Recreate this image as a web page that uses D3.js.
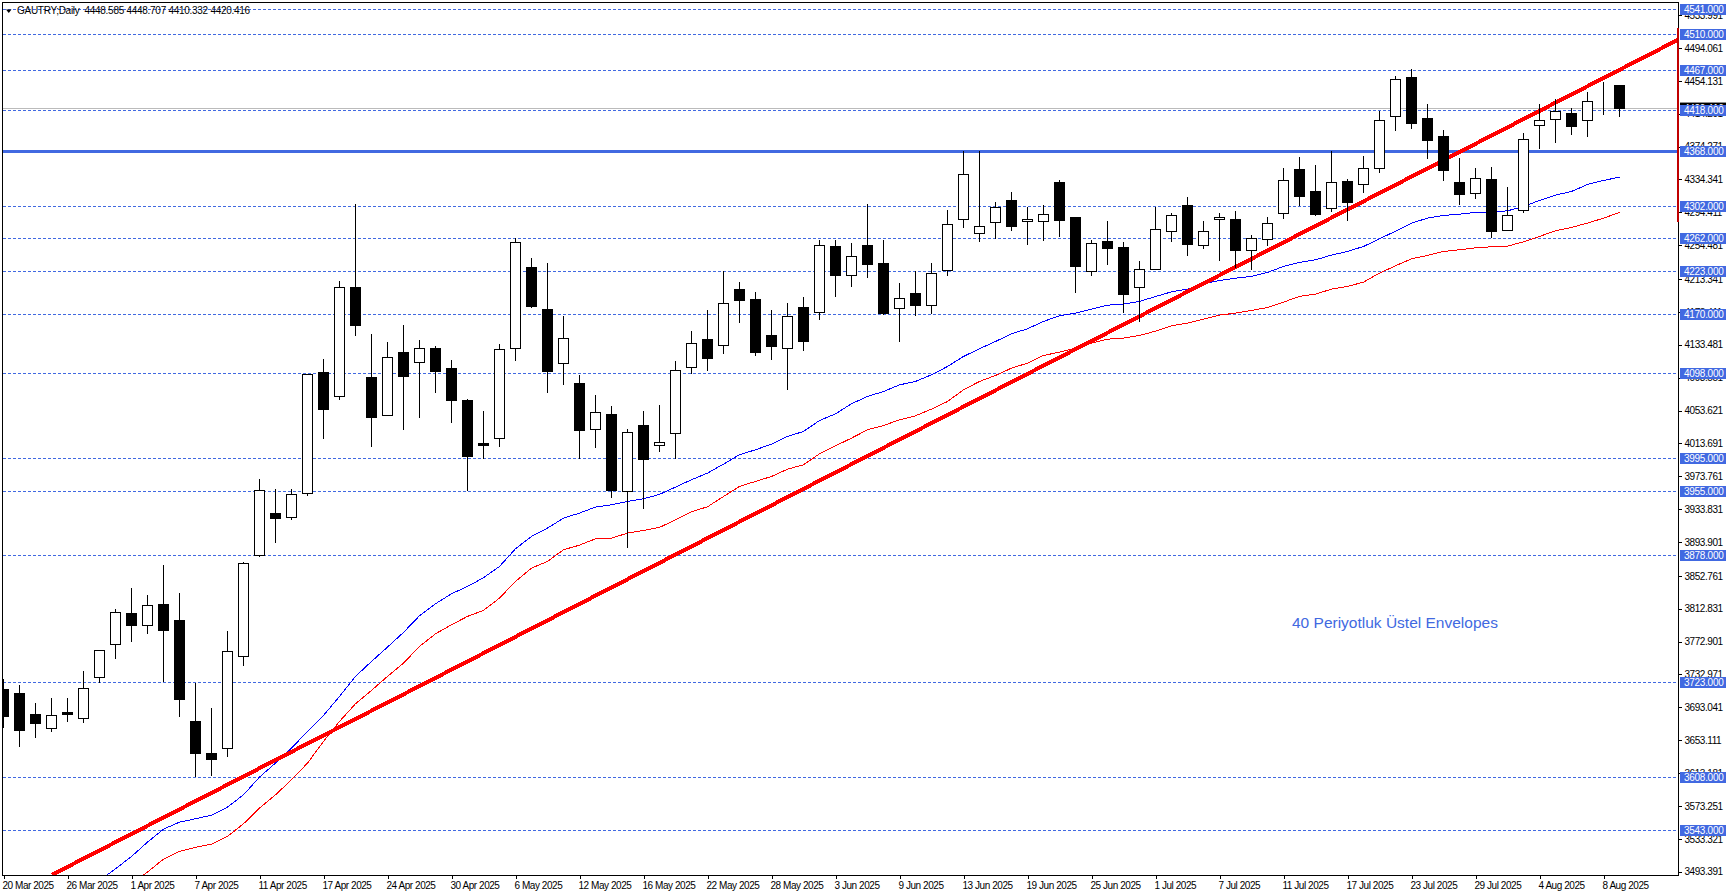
<!DOCTYPE html>
<html><head><meta charset="utf-8">
<style>
html,body{margin:0;padding:0;background:#fff;overflow:hidden}
svg{display:block}
text{font-family:"Liberation Sans",Arial,sans-serif;font-size:10px;letter-spacing:-0.28px;fill:#000}
.axis text{font-size:10px;letter-spacing:-0.45px}
.axis line{stroke:#000;stroke-width:1;shape-rendering:crispEdges}
</style>
<script src="https://cdnjs.cloudflare.com/ajax/libs/d3/7.8.5/d3.min.js"></script>
</head><body><div id="c"></div>
<script>
const chartTitle="GAUTRY;Daily  4448.585 4448.707 4410.332 4420.416";
const annotation="40 Periyotluk Üstel Envelopes";
const dateLabels=["20 Mar 2025","26 Mar 2025","1 Apr 2025","7 Apr 2025","11 Apr 2025","17 Apr 2025","24 Apr 2025","30 Apr 2025","6 May 2025","12 May 2025","16 May 2025","22 May 2025","28 May 2025","3 Jun 2025","9 Jun 2025","13 Jun 2025","19 Jun 2025","25 Jun 2025","1 Jul 2025","7 Jul 2025","11 Jul 2025","17 Jul 2025","23 Jul 2025","29 Jul 2025","4 Aug 2025","8 Aug 2025"];
const priceTicks=[4533.991,4494.061,4454.131,4414.201,4374.271,4334.341,4294.411,4254.481,4213.341,4173.411,4133.481,4093.551,4053.621,4013.691,3973.761,3933.831,3893.901,3852.761,3812.831,3772.901,3732.971,3693.041,3653.111,3613.181,3573.251,3533.321,3493.391];
const dashedLevels=[4541,4510,4467,4418,4302,4262,4223,4170,4098,3995,3955,3878,3723,3608,3543];
const mainLevel=[4368];
const bidPrice=4420.416;
const opens=[3714.4,3710.3,3684.8,3667.8,3686.4,3679.5,3729.8,3769.8,3807.5,3792.9,3818.4,3799.0,3676.3,3637.4,3643.5,3755.3,3877.9,3929.0,3924.1,3952.4,4100.3,4071.1,4203.5,4094.2,4048.0,4124.6,4112.4,4129.4,4105.1,4066.3,4014.0,4020.1,4129.4,4227.8,4176.8,4111.2,4086.9,4031.0,4049.2,3955.7,4035.9,4011.6,4026.2,4106.3,4140.4,4133.1,4201.1,4188.9,4145.2,4129.4,4179.2,4173.1,4253.3,4218.1,4254.5,4232.6,4178.0,4196.2,4181.6,4224.1,4286.1,4269.1,4282.4,4309.2,4283.7,4283.7,4331.0,4288.5,4222.9,4259.4,4252.1,4203.5,4225.4,4271.5,4303.1,4254.5,4286.1,4286.1,4248.5,4261.8,4293.4,4346.8,4320.1,4299.5,4332.3,4328.6,4348.1,4411.2,4458.6,4408.8,4386.9,4331.1,4317.7,4334.7,4272.8,4297.0,4400.3,4407.6,4414.9,4406.4,4433.1,4448.585];
const highs=[3726.5,3719.2,3698.2,3704.2,3704.2,3737.0,3762.6,3812.4,3837.9,3829.4,3865.8,3831.8,3721.7,3692.1,3785.6,3869.4,3969.5,3958.1,3957.3,4097.5,4116.1,4210.8,4304.3,4146.4,4136.7,4157.4,4139.1,4131.0,4114.8,4067.5,4052.9,4134.3,4263.0,4238.7,4232.7,4168.3,4096.6,4072.3,4059.0,4031.0,4052.9,4060.2,4113.6,4150.1,4175.6,4222.5,4209.6,4197.4,4175.6,4184.1,4191.3,4260.6,4260.6,4256.9,4304.3,4260.6,4208.3,4222.5,4232.6,4297.0,4368.0,4368.0,4306.7,4318.9,4300.7,4303.1,4333.5,4288.5,4260.6,4283.7,4258.1,4235.1,4300.7,4293.4,4312.8,4283.7,4293.4,4295.8,4266.7,4288.5,4348.1,4361.4,4351.7,4368.0,4334.7,4362.6,4416.5,4459.8,4467.5,4425.8,4394.2,4360.2,4348.1,4349.3,4325.0,4390.6,4425.8,4431.9,4420.9,4440.4,4452.5,4448.707];
const lows=[3668.6,3645.5,3656.5,3663.8,3675.9,3674.7,3723.7,3752.4,3773.1,3782.8,3724.5,3682.0,3609.1,3610.7,3633.4,3743.9,3876.3,3893.3,3921.3,3950.0,4019.7,4066.7,4144.8,4010.0,4047.5,4030.6,4045.2,4075.6,4039.1,3956.1,3995.8,4010.0,4114.4,4178.8,4075.6,4085.3,3995.8,4008.8,3948.0,3887.3,3934.7,4003.9,3995.8,4099.1,4101.9,4122.5,4160.2,4120.5,4115.2,4078.8,4126.6,4163.8,4192.1,4204.3,4215.2,4170.7,4137.5,4169.1,4171.5,4217.7,4276.0,4259.0,4262.6,4272.3,4255.3,4260.2,4265.0,4197.0,4217.7,4231.0,4172.7,4161.8,4225.0,4259.0,4242.0,4250.5,4235.9,4227.0,4224.6,4254.1,4286.9,4303.1,4290.6,4295.4,4284.5,4318.5,4342.8,4393.8,4396.2,4359.8,4333.1,4303.9,4311.2,4263.8,4272.5,4294.6,4371.9,4379.2,4389.0,4386.5,4413.7,4410.332];
const closes=[3682.0,3665.0,3673.5,3683.6,3684.4,3716.4,3762.6,3808.7,3792.5,3817.2,3786.4,3702.6,3637.0,3629.7,3761.3,3868.2,3956.9,3922.5,3952.0,4097.0,4054.9,4203.5,4157.0,4045.2,4118.5,4095.0,4129.4,4101.1,4065.9,3997.8,4011.2,4128.2,4258.2,4180.0,4101.1,4141.6,4029.8,4051.7,3956.5,4027.4,3994.2,4015.2,4102.7,4135.5,4116.9,4184.1,4187.3,4124.2,4131.4,4168.3,4137.5,4254.5,4217.7,4241.1,4231.0,4171.5,4190.1,4181.2,4220.5,4280.0,4340.7,4277.2,4300.7,4277.2,4286.1,4292.2,4284.9,4228.6,4256.9,4250.5,4194.6,4225.4,4273.9,4290.9,4255.3,4271.5,4288.5,4248.1,4263.0,4281.3,4333.5,4313.6,4291.8,4331.1,4306.4,4348.1,4406.4,4456.2,4402.3,4381.7,4345.2,4316.1,4335.9,4271.1,4291.0,4383.3,4406.4,4417.3,4398.7,4429.4,4433.1,4420.416];
const blueStart=6;
const blueEnvelope=[3482.8,3496.9,3511.9,3529.3,3545.1,3553.6,3557.7,3562.1,3571.9,3586.8,3608.3,3625.3,3643.5,3663.8,3683.2,3706.3,3730.6,3748.8,3766.2,3784.1,3804.3,3818.9,3831.0,3839.9,3850.5,3864.2,3885.7,3900.7,3910.8,3922.9,3929.0,3936.3,3939.1,3943.2,3946.4,3951.7,3960.6,3969.5,3977.6,3988.5,3999.9,4005.9,4012.8,4022.1,4028.2,4041.5,4049.6,4061.8,4070.7,4076.7,4084.8,4088.9,4097.0,4107.1,4119.3,4128.6,4137.5,4146.8,4152.9,4161.8,4168.7,4171.9,4176.8,4181.6,4182.8,4186.1,4192.1,4197.8,4201.1,4207.6,4211.6,4214.4,4216.5,4221.3,4228.6,4233.5,4236.7,4242.4,4246.8,4252.9,4262.2,4271.5,4281.3,4287.3,4290.6,4292.2,4294.2,4294.6,4296.2,4301.5,4308.8,4315.3,4319.7,4328.2,4333.1,4337.1];
const redStart=7;
const redEnvelope=[3467.4,3479.5,3492.9,3508.7,3518.0,3522.9,3526.9,3536.2,3551.6,3570.6,3586.8,3605.1,3625.3,3651.6,3675.9,3697.4,3713.6,3730.6,3746.8,3767.0,3782.4,3793.4,3803.5,3810.8,3825.8,3846.0,3862.2,3870.3,3884.5,3890.1,3897.8,3898.6,3904.7,3907.9,3911.6,3920.9,3930.6,3936.7,3949.2,3961.4,3967.5,3973.5,3982.4,3987.7,4001.0,4010.7,4020.1,4030.2,4035.4,4042.3,4047.2,4055.3,4064.6,4078.8,4088.9,4096.2,4105.1,4111.2,4120.5,4124.5,4129.4,4135.5,4140.3,4141.5,4144.8,4150.0,4156.5,4159.8,4164.6,4169.5,4171.9,4175.2,4178.8,4185.3,4192.2,4195.0,4201.1,4204.3,4209.6,4220.5,4229.4,4237.9,4242.0,4246.8,4248.9,4251.3,4252.5,4253.3,4258.6,4265.1,4271.9,4276.0,4281.3,4287.3,4294.2];
const trendBars=[3.03,104.66];
const trendPrices=[3489.6,4504];
const edgePrices=[4518.5,4283];

const W=1729,H=896;
const x=d3.scaleLinear().domain([0,101]).range([3.5,1619.5]);
const y=d3.scaleLinear().domain([4541,3493.391]).range([9.3,871.7]);
const snap=v=>Math.floor(v)+0.5;
const royal="#4169E1";
const svg=d3.select("#c").append("svg").attr("width",W).attr("height",H);
const defs=svg.append("defs");
defs.append("clipPath").attr("id","plot").append("rect").attr("x",3).attr("y",3).attr("width",1675).attr("height",872);
const plot=svg.append("g").attr("clip-path","url(#plot)");

plot.append("line").attr("x1",3).attr("x2",1678).attr("y1",snap(y(bidPrice))).attr("y2",snap(y(bidPrice))).attr("stroke","#bbbbbb").attr("shape-rendering","crispEdges");
plot.selectAll(".lvl").data(dashedLevels).join("line").attr("x1",3).attr("x2",1678)
 .attr("y1",d=>snap(y(d))).attr("y2",d=>snap(y(d))).attr("stroke",royal).attr("stroke-dasharray","3,2").attr("shape-rendering","crispEdges");
plot.selectAll(".main").data(mainLevel).join("line").attr("x1",3).attr("x2",1678)
 .attr("y1",d=>snap(y(d))).attr("y2",d=>snap(y(d))).attr("stroke",royal).attr("stroke-width",3).attr("shape-rendering","crispEdges");

const lineGen=start=>d3.line().x((d,i)=>x(i+start)).y(d=>y(d));
plot.append("path").attr("d",lineGen(redStart)(redEnvelope)).attr("fill","none").attr("stroke","#ff0000").attr("stroke-width",1).attr("shape-rendering","crispEdges");
plot.append("path").attr("d",lineGen(blueStart)(blueEnvelope)).attr("fill","none").attr("stroke","#0000ff").attr("stroke-width",1).attr("shape-rendering","crispEdges");
plot.append("line").attr("x1",x(trendBars[0])).attr("x2",x(trendBars[1])).attr("y1",y(trendPrices[0])).attr("y2",y(trendPrices[1]))
 .attr("stroke","#ff0000").attr("stroke-width",4).attr("shape-rendering","crispEdges");

const bars=opens.map((o,i)=>({i,o,h:highs[i],l:lows[i],c:closes[i]}));
const cg=plot.append("g").attr("shape-rendering","crispEdges");
cg.selectAll("line").data(bars).join("line")
 .attr("x1",d=>x(d.i)).attr("x2",d=>x(d.i)).attr("y1",d=>Math.floor(y(d.h))).attr("y2",d=>Math.ceil(y(d.l))).attr("stroke","#000");
cg.selectAll("rect").data(bars).join("rect")
 .attr("x",d=>x(d.i)-5).attr("width",10)
 .attr("y",d=>snap(y(Math.max(d.o,d.c))))
 .attr("height",d=>Math.max(0,snap(y(Math.min(d.o,d.c)))-snap(y(Math.max(d.o,d.c)))))
 .attr("fill",d=>d.c>=d.o?"#fff":"#000").attr("stroke","#000");

svg.append("path").attr("d",d3.line()([[2.5,876],[2.5,2.5],[1678.5,2.5],[1678.5,875.5],[2.5,875.5]])).attr("fill","none").attr("stroke","#000").attr("shape-rendering","crispEdges");

const xAxis=d3.axisBottom(x).tickValues(dateLabels.map((d,i)=>i*4)).tickFormat((d,i)=>dateLabels[i]).tickSize(3).tickSizeOuter(0);
const gx=svg.append("g").attr("class","axis").attr("transform","translate(0,875.5)").call(xAxis);
gx.select(".domain").remove();
gx.selectAll("text").attr("text-anchor","start").attr("x",-1.5).attr("y",0).attr("dy",13);
gx.selectAll(".tick line").attr("shape-rendering","crispEdges");
gx.selectAll(".tick").attr("font-family",null).attr("font-size",null);

const yAxis=d3.axisRight(y).tickValues(priceTicks).tickFormat(d3.format(".3f")).tickSize(3).tickPadding(3).tickSizeOuter(0);
const gy=svg.append("g").attr("class","axis").attr("transform","translate(1678.5,0)").call(yAxis);
gy.select(".domain").remove();

// dark-red marker riding the price axis
svg.append("line").attr("x1",1677.5).attr("x2",1677.5).attr("y1",y(edgePrices[0])).attr("y2",y(edgePrices[1])).attr("stroke","#c00000").attr("stroke-width",2).attr("shape-rendering","crispEdges");

// current price tag sits under the level tags
svg.append("rect").attr("x",1680).attr("width",46).attr("y",y(bidPrice)-6).attr("height",11).attr("fill","#000");
svg.append("text").attr("x",1684).attr("y",y(bidPrice)+3.5).style("fill","#fff").text(d3.format(".3f")(bidPrice));

const tags=dashedLevels.concat(mainLevel).sort(d3.descending);
const tg=svg.selectAll(".tag").data(tags).join("g").attr("transform",d=>`translate(0,${snap(y(d))})`);
tg.append("rect").attr("x",1680).attr("width",46).attr("y",-6).attr("height",11).attr("fill",royal).attr("shape-rendering","crispEdges");
tg.append("text").attr("x",1684).attr("y",3).style("fill","#fff").text(d=>d3.format(".3f")(d));

svg.append("path").attr("d","M6,9.5L11.5,9.5L8.75,13Z").attr("fill","#000");
svg.append("text").attr("x",17).attr("y",14).text(chartTitle).attr("xml:space","preserve").style("white-space","pre");
svg.append("text").attr("x",1292).attr("y",628).text(annotation).style("font-size","15.5px").style("letter-spacing","0").style("fill",royal);
</script></body></html>
